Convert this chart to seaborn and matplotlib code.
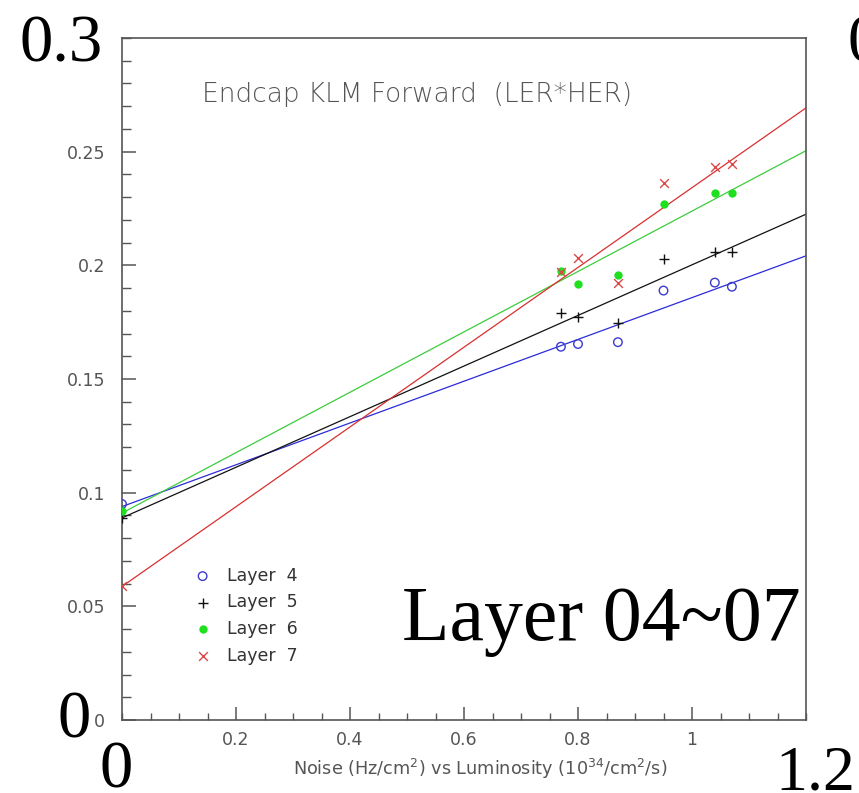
import numpy as np
import pandas as pd
import matplotlib
matplotlib.use("Agg")
import matplotlib.pyplot as plt
import seaborn as sns
from matplotlib.ticker import MultipleLocator

# ---- data ----
luminosity = [0.0, 0.77, 0.80, 0.87, 0.95, 1.04, 1.07]
layer4 = [0.095, 0.1642, 0.1654, 0.1662, 0.1889, 0.1924, 0.1906]
layer5 = [0.089, 0.1791, 0.1772, 0.1745, 0.2028, 0.2060, 0.2060]
layer6 = [0.092, 0.1977, 0.1920, 0.1958, 0.2269, 0.2318, 0.2316]
layer7 = [0.059, 0.1972, 0.2034, 0.1921, 0.2364, 0.2434, 0.2445]
layer_names = ["Layer  4", "Layer  5", "Layer  6", "Layer  7"]
y_ticks = [0, 0.05, 0.1, 0.15, 0.2, 0.25]
y_tick_labels = ["0", "0.05", "0.1", "0.15", "0.2", "0.25"]
x_ticks = [0.2, 0.4, 0.6, 0.8, 1.0]
x_tick_labels = ["0.2", "0.4", "0.6", "0.8", "1"]

df = pd.DataFrame({
    "lum": luminosity * 4,
    "noise": layer4 + layer5 + layer6 + layer7,
    "layer": sum([[n] * len(luminosity) for n in layer_names], []),
})

sns.set_theme(style="white")
plt.rcParams["font.family"] = ["DejaVu Sans"]

fig = plt.figure(figsize=(8.59, 7.93), dpi=100)
ax = fig.add_axes([122 / 859, 1 - 720 / 793, 684 / 859, 682 / 793])
ax.set_xlim(0, 1.2)
ax.set_ylim(0, 0.3)

styles = {
    "Layer  4": dict(marker="o", color="#3a3ad0", fill=False, s=38, line="#2b2bd8"),
    "Layer  5": dict(marker="+", color="#111111", fill=True, s=60, line="#111111"),
    "Layer  6": dict(marker="o", color="#1ee01e", fill=True, s=36, line="#3ccc3c"),
    "Layer  7": dict(marker="x", color="#d84848", fill=True, s=40, line="#d83030"),
}

for name in layer_names:
    st = styles[name]
    sub = df[df["layer"] == name]
    skw = dict(s=st["s"], alpha=1, zorder=3)
    if st["marker"] == "o" and not st["fill"]:
        skw.update(facecolors="none", edgecolors=st["color"], linewidths=1.0)
    elif st["marker"] == "o":
        skw.update(linewidths=0)
    else:
        skw.update(linewidths=1.0)
    sns.regplot(data=sub, x="lum", y="noise", ax=ax, ci=None, truncate=False,
                marker=st["marker"], color=st["color"], label=name,
                scatter_kws=skw,
                line_kws=dict(color=st["line"], lw=0.9, zorder=2))

ax.set_xlim(0, 1.2)
ax.set_ylim(0, 0.3)
ax.set_xlabel("")
ax.set_ylabel("")

grey = "#555555"
for sp in ax.spines.values():
    sp.set_color(grey)
    sp.set_linewidth(1.2)

ax.set_yticks(y_ticks)
ax.set_yticklabels(y_tick_labels)
ax.set_xticks(x_ticks)
ax.set_xticklabels(x_tick_labels)
ax.yaxis.set_minor_locator(MultipleLocator(0.01))
ax.xaxis.set_minor_locator(MultipleLocator(0.05))
ax.tick_params(axis="y", which="major", direction="in", length=10, width=1.1,
               color=grey, labelcolor=grey, labelsize=12.5, pad=12, left=True)
ax.tick_params(axis="y", which="minor", direction="in", length=6.5, width=1.0,
               color=grey, left=True)
ax.tick_params(axis="x", which="major", direction="in", length=9.5, width=1.1,
               color=grey, labelcolor=grey, labelsize=12.5, pad=8, bottom=True)
ax.tick_params(axis="x", which="minor", direction="in", length=5, width=1.0,
               color=grey, bottom=True)

ax.text(0.431, 0.906, "Endcap KLM Forward  (LER*HER)", transform=ax.transAxes,
        ha="center", va="baseline", fontsize=19, color=grey, fontweight="light")

leg = ax.legend(loc="upper left", bbox_to_anchor=(0.095, 0.235), frameon=False,
                handlelength=1.0, handletextpad=0.9, labelspacing=0.5,
                fontsize=12.5, borderaxespad=0)
for t in leg.get_texts():
    t.set_color("#333333")

fig.text(480 / 859, 1 - 775 / 793,
         "Noise (Hz/cm$^2$) vs Luminosity (10$^{34}$/cm$^2$/s)",
         ha="center", va="baseline", fontsize=12.7, color=grey)

serif = ["Liberation Serif", "DejaVu Serif"]
big = dict(family=serif, color="black", va="baseline", ha="left")
fig.text(20 / 859, 1 - 61 / 793, "0.3", fontsize=48, **big)
fig.text(847 / 859, 1 - 61 / 793, "0.3", fontsize=48, **big)
fig.text(58 / 859, 1 - 737 / 793, "0", fontsize=48, **big)
fig.text(100 / 859, 1 - 787 / 793, "0", fontsize=48, **big)
fig.text(775 / 859, 1 - 790 / 793, "1.2", fontsize=46, **big)
fig.text(402 / 859, 1 - 640 / 793, "Layer 04~07", fontsize=56, **big)

fig.savefig("out.png", dpi=100)
